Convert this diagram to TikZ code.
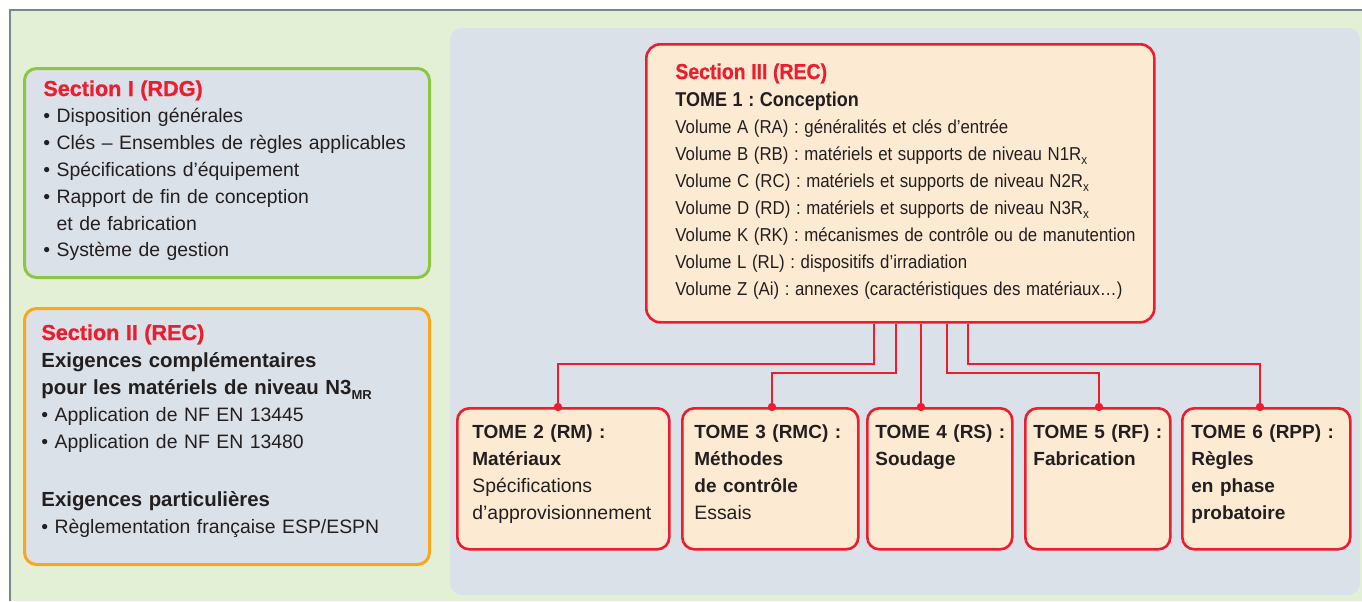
\documentclass[tikz,border=0pt]{standalone}
\usepackage{fontspec}
\setmainfont{Liberation Sans}
\newfontfamily\heavysans{Liberation Sans}[FakeBold=0.8]
\usetikzlibrary{arrows.meta,positioning}
\definecolor{sred}{RGB}{237,28,46}
\definecolor{ink}{RGB}{35,31,32}
\definecolor{peach}{RGB}{253,234,210}
\definecolor{panel}{RGB}{218,225,232}
\definecolor{bggreen}{RGB}{227,240,214}
\definecolor{gborder}{RGB}{141,198,63}
\definecolor{oborder}{RGB}{250,166,26}
\definecolor{framegray}{RGB}{125,135,135}
\frenchspacing
\newcommand\bul{\textbullet\ }
\newcommand\lowsub[1]{\raisebox{-0.5ex}{\fontsize{6.5}{6.5}\selectfont #1}}
\newcommand\sectitle[1]{{\color{sred}\fontsize{10.8}{13.4}\heavysans\bfseries #1}}
\newcommand\tomehd[1]{{\fontsize{9.5}{13.5}\selectfont\bfseries #1}}
\newcommand\narrowbox[1]{\scalebox{0.9}[1]{\begin{tabular}[t]{@{}l@{}}#1\end{tabular}}}
\tikzset{sec/.style={draw,fill=panel,rounded corners=6pt,line width=1.5pt,anchor=north west,inner sep=0pt,minimum width=202.5pt},
 tome/.style={draw=sred,fill=peach,rounded corners=6pt,line width=1.3pt,anchor=north west,inner sep=0pt,minimum height=70.5pt},
 txt/.style={anchor=base west,align=left,inner sep=0pt,text=ink,text width=240pt,font=\fontsize{9.7}{13.4}\selectfont},
 tomtxt/.style={txt,font=\fontsize{9.7}{13.5}\selectfont},
 link/.style={draw=sred,line width=1pt},
 dot/.style={circle,fill=sred,inner sep=0pt,minimum size=4.2pt}}
\begin{document}
\begin{tikzpicture}[x=0.5pt,y=-0.5pt]
\useasboundingbox (0,0) rectangle (1362,601);
\fill[white] (0,0) rectangle (1362,601);
\fill[bggreen] (10,10) rectangle (1362,601);
\draw[framegray,line width=1.3pt] (10,601) -- (10,10) -- (1362,10);
\fill[panel,rounded corners=6pt] (450,28) rectangle (1360,595);
% left column
\node[sec,draw=gborder,minimum height=104.5pt] (s1) at (23,67) {};
\node[txt] (s1txt) at ([xshift=10pt,yshift=-14.5pt]s1.north west)
 {\sectitle{Section I (RDG)}\\
  \bul Disposition générales\\
  \bul Clés -- Ensembles de règles applicables\\
  \bul Spécifications d’équipement\\
  \bul Rapport de fin de conception\\
  \phantom{\bul}et de fabrication\\
  \bul Système de gestion};
\node[sec,draw=oborder,minimum height=128pt] (s2) at (23,307) {};
\node[txt,font=\fontsize{9.7}{13.5}\selectfont] (s2txt) at ([xshift=9pt,yshift=-16.5pt]s2.north west)
 {\sectitle{Section II (REC)}\\
  {\fontsize{10.2}{13.5}\selectfont\bfseries Exigences complémentaires}\\
  {\fontsize{10.2}{13.5}\selectfont\bfseries pour les matériels de niveau N3\lowsub{MR}}\\
  \bul Application de NF EN 13445\\
  \bul Application de NF EN 13480\\[15.6pt]
  {\fontsize{10.2}{13.5}\selectfont\bfseries Exigences particulières}\\
  \bul Règlementation française ESP/ESPN};
% tome 1
\node[tome,minimum width=254pt,minimum height=139pt,rounded corners=7pt] (s3) at (645,43) {};
\node[txt,font=\fontsize{9.35}{13.5}\selectfont] (s3txt) at ([xshift=15pt,yshift=-18pt]s3.north west)
 {\narrowbox{{\color{sred}\fontsize{10.8}{13.5}\heavysans\bfseries Section III (REC)}\\
  {\fontsize{10}{13.5}\selectfont\bfseries TOME 1 : Conception}\\
  Volume A (RA) : généralités et clés d’entrée\\
  Volume B (RB) : matériels et supports de niveau N1R\lowsub{x}\\
  Volume C (RC) : matériels et supports de niveau N2R\lowsub{x}\\
  Volume D (RD) : matériels et supports de niveau N3R\lowsub{x}\\
  Volume K (RK) : mécanismes de contrôle ou de manutention\\
  Volume L (RL) : dispositifs d’irradiation\\
  Volume Z (Ai) : annexes (caractéristiques des matériaux…)}};
% tomes 2 to 6
\node[tome,minimum width=106pt] (t2) at (456,407) {};
\node[tome,minimum width=88pt] (t3) at (681,407) {};
\node[tome,minimum width=72.5pt] (t4) at (866,407) {};
\node[tome,minimum width=72.5pt] (t5) at (1024,407) {};
\node[tome,minimum width=84pt] (t6) at (1181,407) {};
\node[tomtxt] (t2txt) at ([xshift=8pt,yshift=-15.5pt]t2.north west)
 {\tomehd{TOME 2 (RM) :}\\ \tomehd{Matériaux}\\ Spécifications\\ d’approvisionnement};
\node[tomtxt] (t3txt) at ([xshift=6.5pt,yshift=-15.5pt]t3.north west)
 {\tomehd{TOME 3 (RMC) :}\\ \tomehd{Méthodes}\\ \tomehd{de contrôle}\\ Essais};
\node[tomtxt] (t4txt) at ([xshift=4.5pt,yshift=-15.5pt]t4.north west)
 {\tomehd{TOME 4 (RS) :}\\ \tomehd{Soudage}};
\node[tomtxt] (t5txt) at ([xshift=4.5pt,yshift=-15.5pt]t5.north west)
 {\tomehd{TOME 5 (RF) :}\\ \tomehd{Fabrication}};
\node[tomtxt] (t6txt) at ([xshift=5pt,yshift=-15.5pt]t6.north west)
 {\tomehd{TOME 6 (RPP) :}\\ \tomehd{Règles}\\ \tomehd{en phase}\\ \tomehd{probatoire}};
% links
\draw[link] ([xshift=114.5pt]s3.south west) -- ++(0,40) -| ([xshift=51pt]t2.north west) node[dot]{};
\draw[link] ([xshift=125.5pt]s3.south west) -- ++(0,49) -| ([xshift=45.5pt]t3.north west) node[dot]{};
\draw[link] ([xshift=138pt]s3.south west) -- ([xshift=27.5pt]t4.north west) node[dot]{};
\draw[link] ([xshift=151pt]s3.south west) -- ++(0,49) -| ([xshift=37.5pt]t5.north west) node[dot]{};
\draw[link] ([xshift=161.5pt]s3.south west) -- ++(0,40) -| ([xshift=39.5pt]t6.north west) node[dot]{};
\end{tikzpicture}
\end{document}
